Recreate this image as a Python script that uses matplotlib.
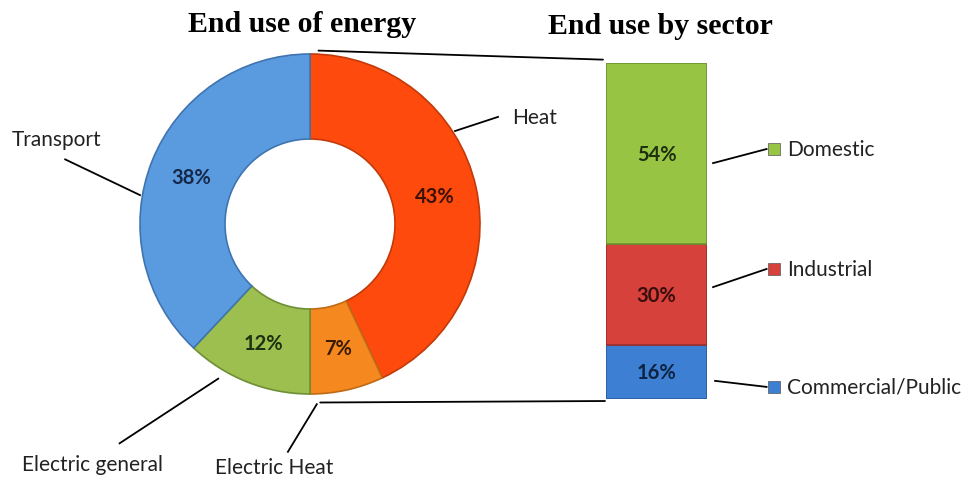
import matplotlib.pyplot as plt
from matplotlib.patches import ConnectionPatch
import numpy as np

# donut data (clockwise from 12 o'clock)
uses = ["Heat", "Electric Heat", "Electric general", "Transport"]
use_share = [43, 7, 12, 38]
use_colors = ["#FF4A0E", "#F5891F", "#9CBF4F", "#5A9BE0"]
use_edges = ["#C23A0A", "#C06A15", "#6E8F35", "#3F74B0"]
use_text = ["#3A1205", "#3A1A05", "#1E3010", "#14284A"]

# stacked bar data (bottom to top)
sectors = ["Commercial/Public", "Industrial", "Domestic"]
sector_share = [16, 30, 54]
sector_colors = ["#3D7FD2", "#D6413C", "#97C442"]
sector_edges = ["#2A5E9E", "#9E2E2A", "#6E9330"]
sector_text = ["#0E2340", "#3A0E0C", "#1E3010"]

W, H = 973, 489
fig = plt.figure(figsize=(W / 100, H / 100), dpi=100)
fig.patch.set_facecolor("white")

label_font = "Lato"
label_size = 15
pct_size = 14.5

# ---- donut ----
cx, cy, r = 310, 225, 170
ax = fig.add_axes([(cx - r) / W, (H - cy - r) / H, 2 * r / W, 2 * r / H])
wedges, _, pcts = ax.pie(use_share, colors=use_colors, startangle=90, counterclock=False,
                         autopct="%d%%", pctdistance=0.75,
                         wedgeprops=dict(width=0.5, linewidth=1.2))
for w, ec in zip(wedges, use_edges):
    w.set_edgecolor(ec)
for t, c in zip(pcts, use_text):
    t.set_color(c)
    t.set_fontsize(pct_size)
    t.set_fontweight("bold")
    t.set_family(label_font)
ax.set_xlim(-1, 1)
ax.set_ylim(-1, 1)
ax.set_aspect("equal")

# leader lines: (start on ring, end near text), text position, alignment
leaders = {
    "Heat": ((0.853, 0.547), (1.106, 0.63), (1.19, 0.63), "left", "center"),
    "Transport": ((-1.0, 0.17), (-1.44, 0.38), (-1.49, 0.50), "center", "center"),
    "Electric general": ((-0.54, -0.91), (-1.12, -1.29), (-1.28, -1.41), "center", "center"),
    "Electric Heat": ((0.04, -1.06), (-0.13, -1.34), (-0.21, -1.43), "center", "center"),
}
for name in uses:
    p0, p1, tp, ha, va = leaders[name]
    ax.plot([p0[0], p1[0]], [p0[1], p1[1]], color="black", lw=1.3, clip_on=False)
    ax.text(tp[0], tp[1], name, ha=ha, va=va, fontsize=label_size, family=label_font,
            color="#222222", clip_on=False)

# ---- stacked bar ----
bx0, bx1, by0, by1 = 606, 707, 64, 400
bax = fig.add_axes([bx0 / W, (H - by1) / H, (bx1 - bx0) / W, (by1 - by0) / H])
bottom = 0
for val, col, ec, tc in zip(sector_share, sector_colors, sector_edges, sector_text):
    bax.bar(0, val, width=1, bottom=bottom, color=col, edgecolor=ec, linewidth=1.2)
    bax.text(0, bottom + val / 2, f"{val}%", ha="center", va="center", fontsize=pct_size,
             fontweight="bold", family=label_font, color=tc)
    bottom += val
bax.set_xlim(-0.5, 0.5)
bax.set_ylim(0, 100)
bax.axis("off")

bar_leaders = {
    "Domestic": ((0.56, 70.2), (1.09, 74.4)),
    "Industrial": ((0.56, 33.3), (1.09, 38.7)),
    "Commercial/Public": ((0.58, 5.4), (1.09, 3.6)),
}
for name, col in zip(sectors, sector_colors):
    p0, p1 = bar_leaders[name]
    bax.plot([p0[0], p1[0]], [p0[1], p1[1]], color="black", lw=1.3, clip_on=False)
    bax.plot(1.16, p1[1], marker="s", ms=8, color=col, mec="#555555", mew=0.5, clip_on=False)
    bax.text(1.29, p1[1], name, ha="left", va="center", fontsize=label_size, family=label_font,
             color="#222222", clip_on=False)

# ---- connectors between donut and bar ----
for pa, pb in [((0.05, 1.02), (-0.53, 101)), ((0.06, -1.05), (-0.51, -0.6))]:
    con = ConnectionPatch(xyA=pa, coordsA=ax.transData, xyB=pb, coordsB=bax.transData,
                          color="black", lw=1.3)
    fig.add_artist(con)

# ---- titles ----
fig.text(302 / W, 1 - 24 / H, "End use of energy", ha="center", va="center",
         fontsize=21.5, fontweight="bold", family="Liberation Serif")
fig.text(660 / W, 1 - 27 / H, "End use by sector", ha="center", va="center",
         fontsize=21.5, fontweight="bold", family="Liberation Serif")

fig.savefig("out.png", dpi=100, facecolor="white")
